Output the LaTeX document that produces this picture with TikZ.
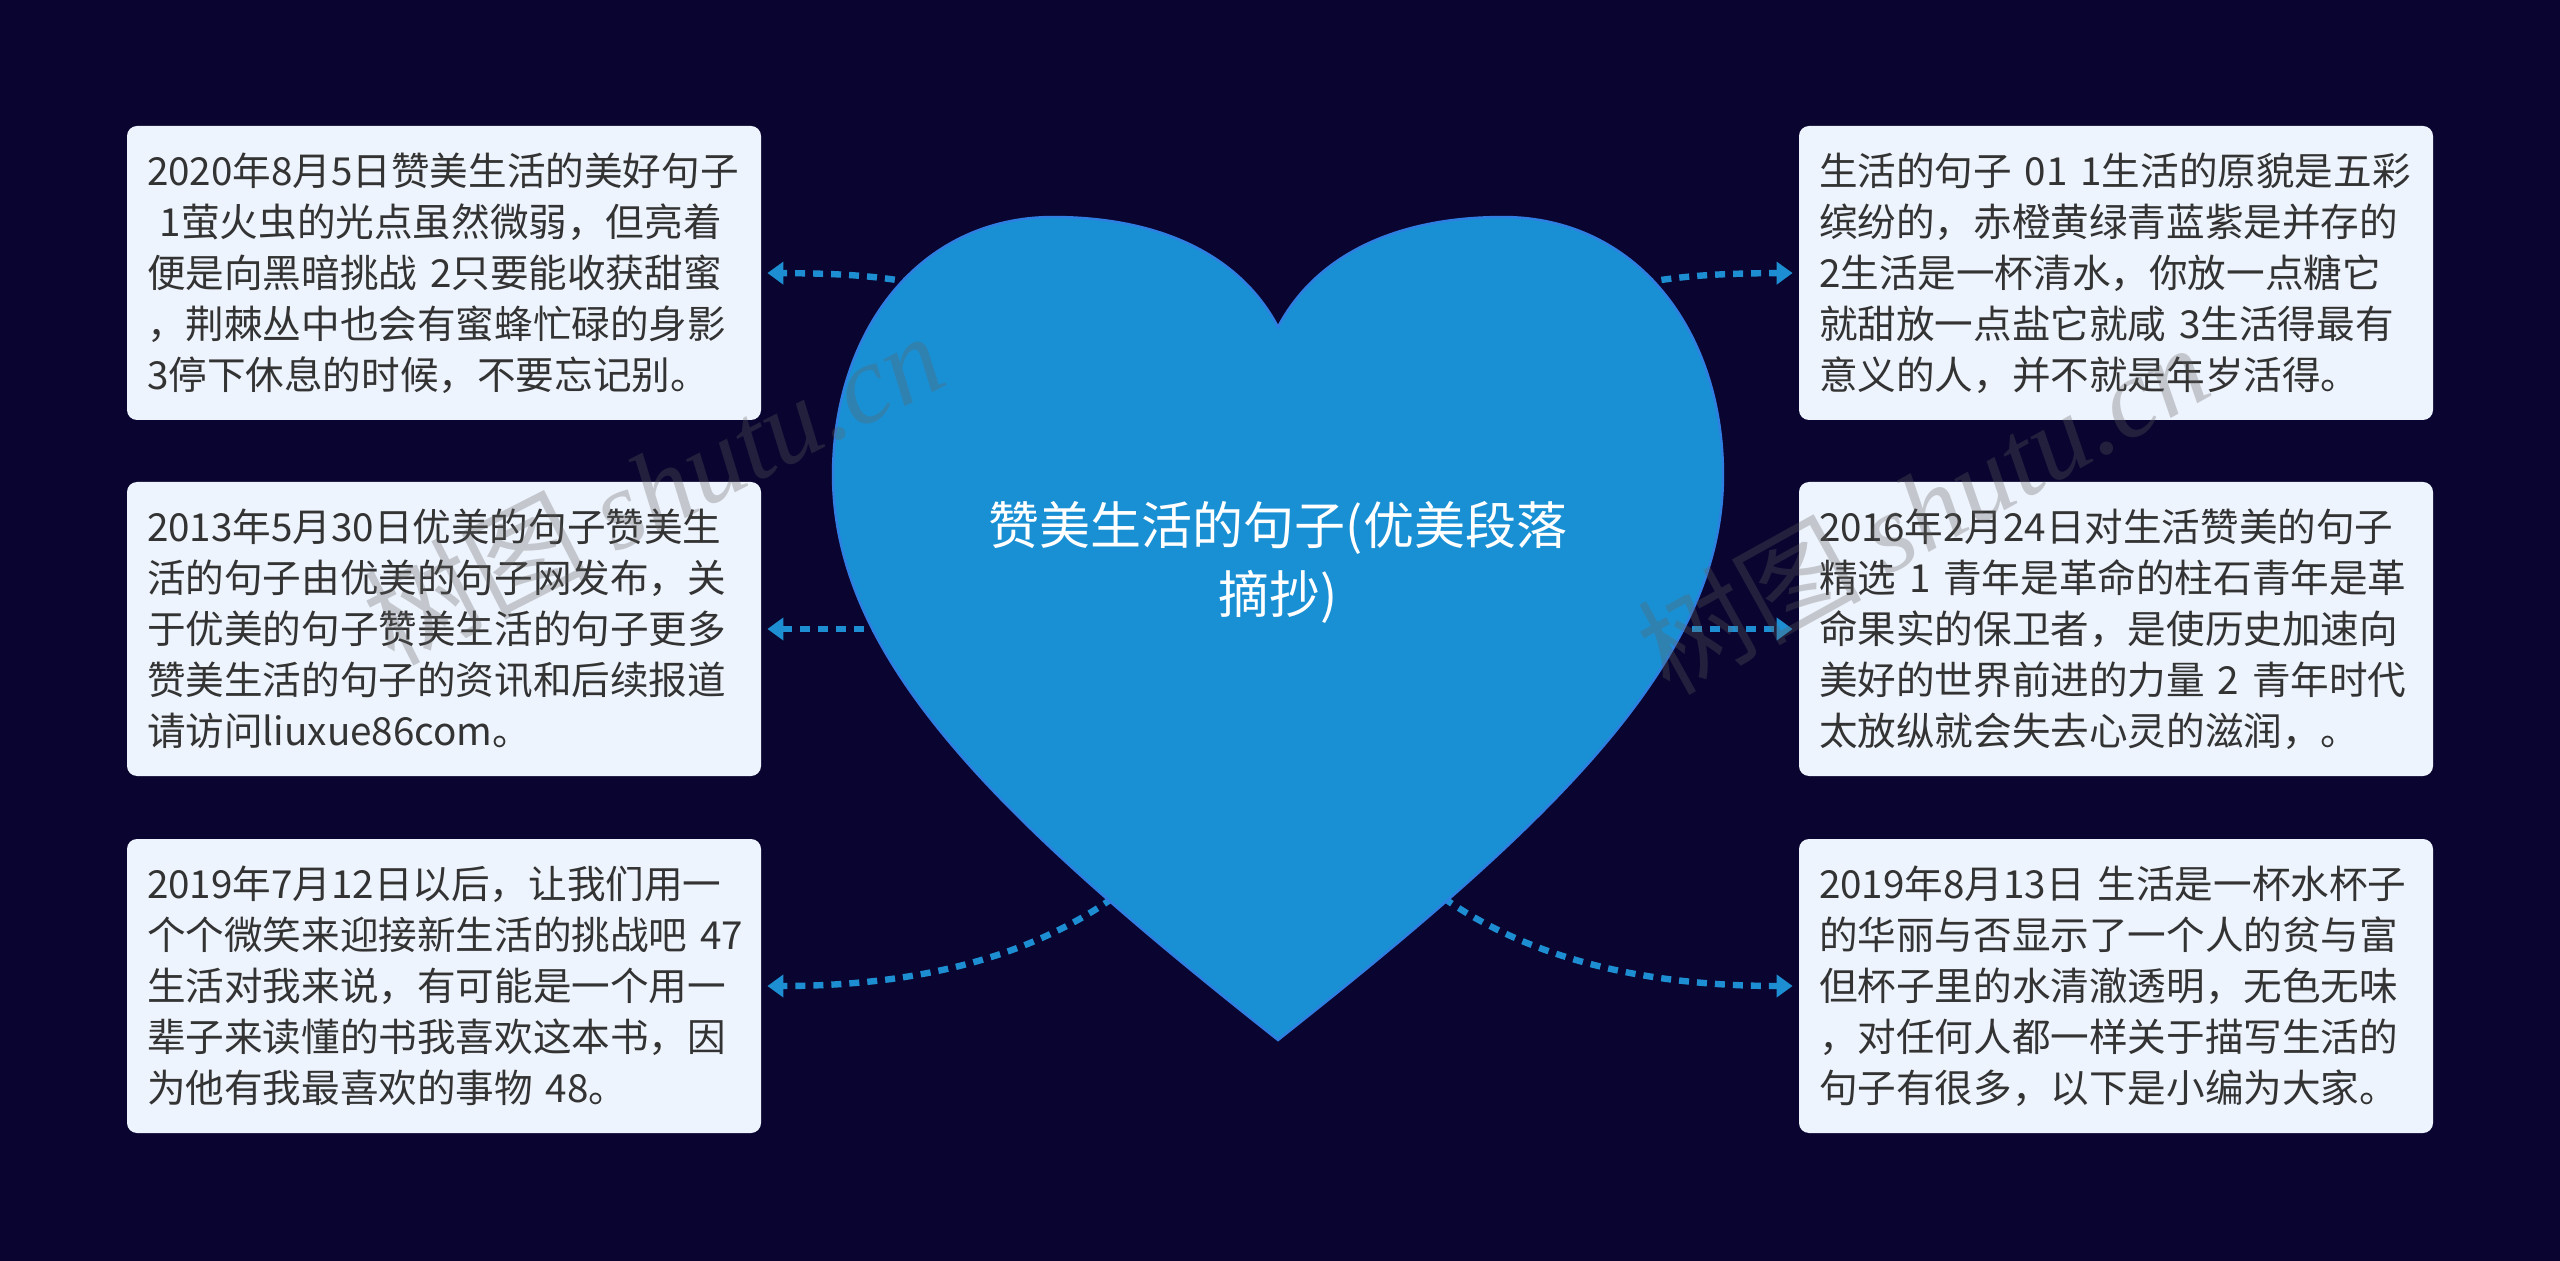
\documentclass[tikz,border=0pt]{standalone}
\usepackage{fontspec}
\setmainfont{Noto Sans CJK SC}
\newfontfamily\cjk{Noto Sans CJK SC}
\newfontfamily\wmserif{Liberation Serif}
\usetikzlibrary{arrows.meta}
\definecolor{bgc}{HTML}{0A0530}
\definecolor{heartc}{HTML}{1A90D4}
\definecolor{heartline}{HTML}{2F7FE2}
\definecolor{boxc}{HTML}{EEF4FD}
\definecolor{txtc}{HTML}{333333}
\definecolor{linkc}{HTML}{1E8ED2}
\definecolor{wmc}{HTML}{606060}
\tikzset{
  leaf/.style={fill=boxc, rounded corners=5pt, text=txtc, align=left,
    text width=297pt, inner xsep=10pt, inner ysep=0pt, minimum height=147pt,
    font=\cjk\fontsize{19.3pt}{25.5pt}\selectfont},
  link/.style={draw=linkc, line width=3.2pt, dash pattern=on 5pt off 4pt,
    -{Triangle[length=8pt,width=11pt]}, shorten >=3pt},
  wmark/.style={text=wmc, opacity=0.3, font=\fontsize{56pt}{60pt}\selectfont}
}
\begin{document}
\begin{tikzpicture}[x=0.5pt,y=-0.5pt]
\useasboundingbox (0,0) rectangle (2560,1261);
\fill[bgc] (0,0) rectangle (2560,1261);
\coordinate (hc) at (1278,629);
% leaf nodes
\node[leaf] (l1) at (444,273) {\mbox{2020年8月5日赞美生活的美好句子}\\\ 1萤火虫的光点虽然微弱，但亮着\\\mbox{便是向黑暗挑战 2只要能收获甜蜜}\\，荆棘丛中也会有蜜蜂忙碌的身影\\3停下休息的时候，不要忘记别。};
\node[leaf] (l2) at (444,629) {\mbox{2013年5月30日优美的句子赞美生}\\活的句子由优美的句子网发布，关\\于优美的句子赞美生活的句子更多\\赞美生活的句子的资讯和后续报道\\请访问liuxue86com。};
\node[leaf] (l3) at (444,986) {\mbox{2019年7月12日以后，让我们用一}\\\mbox{个个微笑来迎接新生活的挑战吧 47}\\生活对我来说，有可能是一个用一\\辈子来读懂的书我喜欢这本书，因\\\mbox{为他有我最喜欢的事物 48。}};
\node[leaf] (r1) at (2116,273) {\mbox{生活的句子 01 1生活的原貌是五彩}\\缤纷的，赤橙黄绿青蓝紫是并存的\\\mbox{2生活是一杯清水，你放一点糖它}\\\mbox{就甜放一点盐它就咸 3生活得最有}\\意义的人，并不就是年岁活得。};
\node[leaf] (r2) at (2116,629) {\mbox{2016年2月24日对生活赞美的句子}\\\mbox{精选 1 青年是革命的柱石青年是革}\\命果实的保卫者，是使历史加速向\\\mbox{美好的世界前进的力量 2 青年时代}\\太放纵就会失去心灵的滋润，。};
\node[leaf] (r3) at (2116,986) {\mbox{2019年8月13日 生活是一杯水杯子}\\的华丽与否显示了一个人的贫与富\\但杯子里的水清澈透明，无色无味\\，对任何人都一样关于描写生活的\\句子有很多，以下是小编为大家。};
% connectors
\draw[link] (hc) .. controls (1100,290) and (950,274) .. (l1.east);
\draw[link] (hc) -- (l2.east);
\draw[link] (hc) .. controls (1220,910) and (1000,986) .. (l3.east);
\draw[link] (hc) .. controls (1456,290) and (1606,274) .. (r1.west);
\draw[link] (hc) -- (r2.west);
\draw[link] (hc) .. controls (1336,910) and (1556,986) .. (r3.west);
% heart
\path[fill=heartc, draw=heartline, line width=1.2pt]
  (1278,327) .. controls (1240,255) and (1160,217) .. (1053,217)
  .. controls (920,217) and (833,330) .. (833,475)
  .. controls (833,660) and (1000,820) .. (1278,1040)
  .. controls (1556,820) and (1723,660) .. (1723,475)
  .. controls (1723,330) and (1636,217) .. (1503,217)
  .. controls (1396,217) and (1316,255) .. (1278,327) -- cycle;
\node[text=white, align=center, font=\cjk\fontsize{25.5pt}{34.5pt}\selectfont] (title) at (1278,562) {赞美生活的句子(优美段落\\摘抄)};
% watermarks
\node[wmark, rotate=27] (wm1) at (653,487) {树图 {\wmserif\itshape shutu.cn}};
\node[wmark, rotate=29] (wm2) at (1922,508) {树图 {\wmserif\itshape shutu.cn}};
\end{tikzpicture}
\end{document}
